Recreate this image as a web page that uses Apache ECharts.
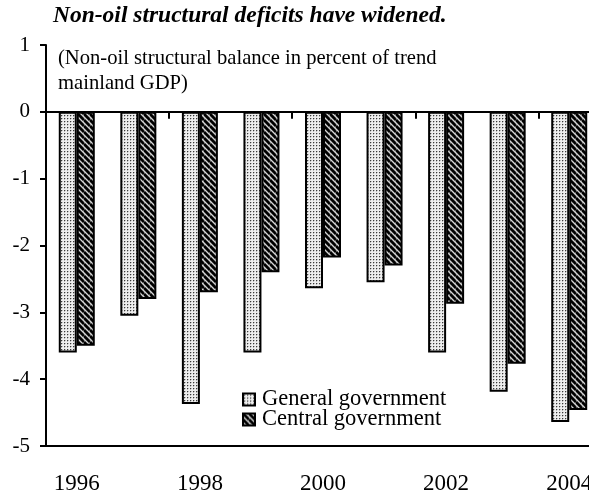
<!DOCTYPE html>
<html>
<head>
<meta charset="utf-8">
<script src="https://cdn.jsdelivr.net/npm/echarts@6/dist/echarts.min.js"></script>
<style>
  html, body { margin: 0; padding: 0; background: #fff; }
  #chart { width: 589px; height: 492px; }
</style>
</head>
<body>
<div id="chart"></div>
<script>
// data
const years = ['1996', '1997', '1998', '1999', '2000', '2001', '2002', '2003', '2004']
const generalGov = [-3.6, -3.05, -4.37, -3.6, -2.64, -2.55, -3.6, -4.19, -4.64]
const centralGov = [-3.5, -2.8, -2.7, -2.4, -2.18, -2.3, -2.87, -3.77, -4.46]
const yTicks = { min: -5, max: 1, step: 1 }

const serif = '"Liberation Serif", "DejaVu Serif", serif'

// small fill patterns: dotted for general, hatched for central
function dotPattern() {
  const c = document.createElement('canvas')
  c.width = 3
  c.height = 3
  const ctx = c.getContext('2d')
  ctx.fillStyle = '#eeeeee'
  ctx.fillRect(0, 0, 3, 3)
  ctx.fillStyle = '#bbbbbb'
  ctx.fillRect(2, 1, 1, 1)
  ctx.fillRect(1, 2, 1, 1)
  ctx.fillStyle = '#3a3a3a'
  ctx.fillRect(1, 1, 1, 1)
  return c
}

function hatchPattern() {
  const s = 6
  const c = document.createElement('canvas')
  c.width = s
  c.height = s
  const ctx = c.getContext('2d')
  ctx.fillStyle = '#9a9a9a'
  ctx.fillRect(0, 0, s, s)
  ctx.strokeStyle = '#000'
  ctx.lineWidth = 2.6
  for (const off of [-s, 0, s]) {
    ctx.beginPath()
    ctx.moveTo(0, off)
    ctx.lineTo(s, off + s)
    ctx.stroke()
  }
  ctx.strokeStyle = '#e6e6e6'
  ctx.lineWidth = 0.8
  for (const off of [-s, 0, s]) {
    ctx.beginPath()
    ctx.moveTo(0, off + s / 2)
    ctx.lineTo(s, off + s / 2 + s)
    ctx.stroke()
  }
  return c
}

const chart = echarts.init(document.getElementById('chart'), null, { renderer: 'canvas' })

chart.setOption({
  animation: false,
  title: [
    {
      text: 'Non-oil structural deficits have widened.',
      left: 53,
      top: 4,
      padding: 0,
      textStyle: { fontFamily: serif, fontSize: 23.5, fontWeight: 'bold', fontStyle: 'italic', color: '#000' },
    },
    {
      text: '(Non-oil structural balance in percent of trend\nmainland GDP)',
      left: 58,
      top: 46,
      padding: 0,
      textStyle: { fontFamily: serif, fontSize: 20.6, fontWeight: 'normal', color: '#000', lineHeight: 25 },
    },
  ],
  legend: {
    data: ['General government', 'Central government'],
    orient: 'vertical',
    left: 242,
    top: 388,
    padding: 0,
    itemWidth: 12,
    itemHeight: 12,
    itemGap: -3,
    icon: 'rect',
    textStyle: { fontFamily: serif, fontSize: 22.5, color: '#000', lineHeight: 19, padding: [0, 0, 0, 2] },
  },
  grid: { left: 46, top: 45, bottom: 46, width: 554, outerBoundsMode: 'none' },
  xAxis: [
    {
      type: 'category',
      data: years,
      position: 'bottom',
      axisLine: { onZero: false, lineStyle: { color: '#000', width: 2 } },
      axisTick: { show: false },
      axisLabel: { interval: 1, margin: 26, fontFamily: serif, fontSize: 23, color: '#000' },
    },
    {
      type: 'category',
      data: years,
      position: 'bottom',
      axisLine: { onZero: true, lineStyle: { color: '#000', width: 2 } },
      axisTick: { show: true, interval: 1, length: 7, lineStyle: { color: '#000', width: 2 } },
      axisLabel: { show: false },
    },
  ],
  yAxis: {
    type: 'value',
    min: yTicks.min,
    max: yTicks.max,
    interval: yTicks.step,
    splitLine: { show: false },
    axisLine: { show: true, lineStyle: { color: '#000', width: 2 } },
    axisTick: { show: true, length: 6, lineStyle: { color: '#000', width: 2 } },
    axisLabel: { margin: 16, fontFamily: serif, fontSize: 21, color: '#000' },
  },
  series: [
    {
      name: 'General government',
      type: 'bar',
      data: generalGov,
      barWidth: 18,
      barGap: '0%',
      itemStyle: { color: { image: dotPattern(), repeat: 'repeat' }, borderColor: '#000', borderWidth: 2 },
    },
    {
      name: 'Central government',
      type: 'bar',
      data: centralGov,
      barWidth: 18,
      barGap: '0%',
      itemStyle: { color: { image: hatchPattern(), repeat: 'repeat' }, borderColor: '#000', borderWidth: 2 },
    },
  ],
})
</script>
</body>
</html>
